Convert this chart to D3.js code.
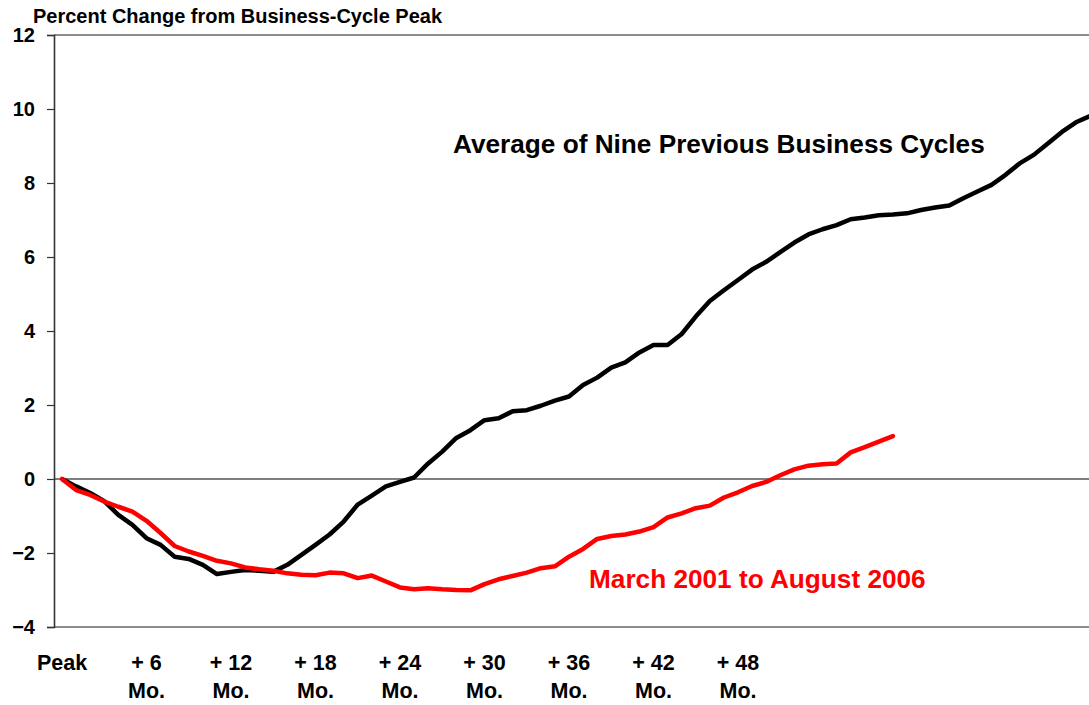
<!DOCTYPE html>
<html>
<head>
<meta charset="utf-8">
<script src="https://cdn.jsdelivr.net/npm/d3@7"></script>
<style>
  html, body { margin: 0; padding: 0; background: #fff; }
  svg { display: block; font-family: "Liberation Sans", Arial, sans-serif; font-weight: bold; }
</style>
</head>
<body>
<svg id="chart" width="1089" height="705"></svg>
<script>
// Months after business-cycle peak
const averageCycle = [0, -0.2, -0.38, -0.6, -0.97, -1.24, -1.6, -1.78, -2.1, -2.16,
  -2.32, -2.57, -2.51, -2.46, -2.48, -2.51, -2.32, -2.05, -1.78, -1.5,
  -1.15, -0.69, -0.45, -0.2, -0.08, 0.04, 0.42, 0.74, 1.11, 1.32,
  1.59, 1.64, 1.83, 1.86, 1.98, 2.12, 2.23, 2.54, 2.74, 3.01,
  3.15, 3.42, 3.62, 3.62, 3.92, 4.39, 4.81, 5.1, 5.38, 5.66,
  5.87, 6.13, 6.39, 6.61, 6.75, 6.86, 7.02, 7.07, 7.13, 7.15,
  7.18, 7.27, 7.34, 7.39, 7.59, 7.77, 7.95, 8.22, 8.53, 8.76,
  9.07, 9.38, 9.64, 9.81];
const currentCycle = [0, -0.3, -0.43, -0.61, -0.75, -0.88, -1.13, -1.46, -1.81, -1.96,
  -2.08, -2.21, -2.28, -2.39, -2.44, -2.48, -2.55, -2.59, -2.6, -2.53,
  -2.55, -2.68, -2.61, -2.77, -2.93, -2.98, -2.95, -2.98, -3.0, -3.01,
  -2.84, -2.71, -2.62, -2.53, -2.41, -2.36, -2.1, -1.89, -1.62, -1.54,
  -1.5, -1.42, -1.3, -1.04, -0.93, -0.79, -0.72, -0.5, -0.36, -0.19,
  -0.08, 0.1, 0.26, 0.36, 0.4, 0.42, 0.72, 0.86, 1.01, 1.16];
const xTickMonths = [0, 6, 12, 18, 24, 30, 36, 42, 48];
const xTickLabels = [["Peak"], ["+ 6", "Mo."], ["+ 12", "Mo."], ["+ 18", "Mo."], ["+ 24", "Mo."],
  ["+ 30", "Mo."], ["+ 36", "Mo."], ["+ 42", "Mo."], ["+ 48", "Mo."]];
const yTicks = [-4, -2, 0, 2, 4, 6, 8, 10, 12];

const svg = d3.select("#chart");
const plot = { left: 54, right: 1089, top: 35, bottom: 627 };

const x = d3.scaleLinear().domain([0, 48]).range([62, 738]);
const y = d3.scaleLinear().domain([-4, 12]).range([plot.bottom, plot.top]);

svg.append("defs").append("clipPath").attr("id", "clip")
  .append("rect").attr("x", plot.left).attr("y", plot.top - 5)
  .attr("width", plot.right - plot.left).attr("height", plot.bottom - plot.top + 10);

// frame lines top / bottom
svg.append("line").attr("x1", plot.left).attr("x2", plot.right)
  .attr("y1", plot.top).attr("y2", plot.top).attr("stroke", "#8c8c8c").attr("stroke-width", 2);
svg.append("line").attr("x1", plot.left).attr("x2", plot.right)
  .attr("y1", plot.bottom).attr("y2", plot.bottom).attr("stroke", "#8c8c8c").attr("stroke-width", 2);

// zero line
svg.append("line").attr("x1", plot.left).attr("x2", plot.right)
  .attr("y1", y(0)).attr("y2", y(0)).attr("stroke", "#000").attr("stroke-width", 1.2);

// y axis
const yAxis = d3.axisLeft(y).tickValues(yTicks).tickSize(7).tickPadding(12).tickFormat(d3.format("d"));
const yg = svg.append("g").attr("transform", `translate(${plot.left},0)`).call(yAxis);
yg.select(".domain").attr("stroke", "#333").attr("stroke-width", 1.6);
yg.selectAll(".tick line").attr("stroke", "#333").attr("stroke-width", 1.2);
yg.selectAll(".tick text").attr("font-size", 20).attr("font-weight", "bold")
  .attr("font-family", "'Liberation Sans', Arial, sans-serif").attr("fill", "#000");

// x tick labels
const xg = svg.append("g");
xTickMonths.forEach((m, i) => {
  const t = xg.append("text").attr("x", x(m)).attr("text-anchor", "middle")
    .attr("font-size", 21.5).attr("fill", "#000");
  xTickLabels[i].forEach((s, j) => {
    t.append("tspan").attr("x", x(m)).attr("y", 670 + j * 28).text(s);
  });
});

const line = d3.line().x((d, i) => x(i)).y(d => y(d));
const g = svg.append("g").attr("clip-path", "url(#clip)");
g.append("path").datum(averageCycle).attr("d", line)
  .attr("fill", "none").attr("stroke", "#000").attr("stroke-width", 4.5).attr("stroke-linejoin", "round");
g.append("path").datum(currentCycle).attr("d", line)
  .attr("fill", "none").attr("stroke", "#ff0000").attr("stroke-width", 4.5)
  .attr("stroke-linejoin", "round").attr("stroke-linecap", "round");

// title
svg.append("text").attr("x", 33).attr("y", 23).attr("font-size", 20).attr("fill", "#000")
  .text("Percent Change from Business-Cycle Peak");

// annotations
svg.append("text").attr("x", 453).attr("y", 153).attr("font-size", 26.2).attr("fill", "#000")
  .text("Average of Nine Previous Business Cycles");
svg.append("text").attr("x", 589).attr("y", 588).attr("font-size", 26.2).attr("fill", "#ff0000")
  .text("March 2001 to August 2006");
</script>
</body>
</html>
